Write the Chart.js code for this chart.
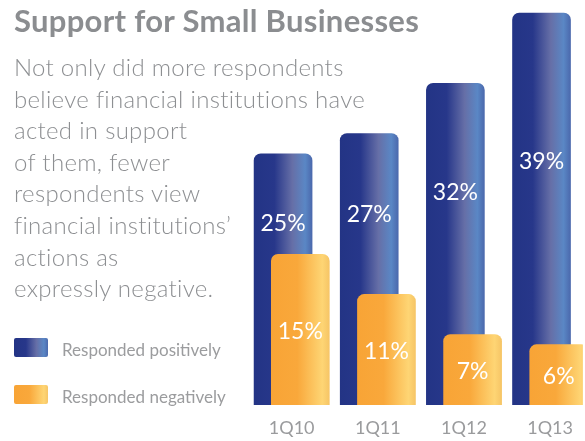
<!DOCTYPE html>
<html>
<head>
<meta charset="utf-8">
<title>Support for Small Businesses</title>
<script src="https://cdn.jsdelivr.net/npm/chart.js@4.4.1/dist/chart.umd.min.js"></script>
<style>
    html, body { margin: 0; padding: 0; background: #fff; }
    #wrap { position: relative; width: 585px; height: 441px; overflow: hidden; font-family: Lato, sans-serif; }
    #chart { position: absolute; left: 0; top: 0; }
    h1 {
        position: absolute; left: 14px; top: 5px; margin: 0; white-space: nowrap;
        font-size: 31px; line-height: 31px; font-weight: 700; color: #8b8d90; letter-spacing: 0.3px;
    }
    p.intro {
        position: absolute; left: 14px; top: 51px; margin: 0; white-space: nowrap;
        font-size: 24px; line-height: 31.6px; font-weight: 300; color: #8d8f92; letter-spacing: 0.3px;
    }
    .legend-row { position: absolute; left: 14px; height: 19px; }
    .legend-row .swatch { position: absolute; left: 0; top: 0; width: 34px; height: 19px; border-radius: 2px; }
    .legend-row span {
        position: absolute; left: 48px; top: 2px; white-space: nowrap;
        font-size: 17px; line-height: 19px; color: #9b9c9e;
    }
</style>
</head>
<body>
<div id="wrap">
    <canvas id="chart" width="585" height="441"></canvas>
    <h1>Support for Small Businesses</h1>
    <p class="intro">Not only did more respondents<br>believe financial institutions have<br>acted in support<br>of them, fewer<br>respondents view<br>financial institutions’<br>actions as<br>expressly negative.</p>
    <div id="legend"></div>
</div>
<script>
    const quarters = ['1Q10', '1Q11', '1Q12', '1Q13'];
    const positive = [25, 27, 32, 39];
    const negative = [15, 11, 7, 6];
    const seriesNames = ['Responded positively', 'Responded negatively'];

    const BAR_WIDTH = 58;
    const blueStops = [[0, '#233485'], [0.35, '#27378a'], [0.66, '#666fa7'], [0.88, '#5a87c5'], [1, '#4b69ad']];
    const orangeStops = [[0, '#f8a436'], [0.45, '#f9a83b'], [0.88, '#fed574'], [1, '#f6c566']];

    // horizontal gradient across each bar, worked out from the x scale
    function barGradient(stops) {
        return function(context) {
            const chart = context.chart;
            if (context.type !== 'data' || !chart.chartArea) {
                return stops[0][1];
            }
            const cx = chart.scales.x.getPixelForValue(context.parsed.x);
            const g = chart.ctx.createLinearGradient(cx - BAR_WIDTH / 2, 0, cx + BAR_WIDTH / 2, 0);
            stops.forEach(function(s) { g.addColorStop(s[0], s[1]); });
            return g;
        };
    }

    function cssGradient(stops) {
        return 'linear-gradient(to right, ' + stops.map(s => s[1] + ' ' + (s[0] * 100) + '%').join(', ') + ')';
    }

    // white percentage labels inside the bars
    const barLabels = {
        id: 'barLabels',
        afterDatasetsDraw(chart) {
            const ctx = chart.ctx;
            const yScale = chart.scales.y;
            ctx.save();
            ctx.font = '23px Lato, sans-serif';
            ctx.fillStyle = '#ffffff';
            ctx.textAlign = 'center';
            ctx.textBaseline = 'middle';
            chart.data.datasets.forEach(function(ds, di) {
                const meta = chart.getDatasetMeta(di);
                meta.data.forEach(function(bar, i) {
                    const v = ds.data[i].y;
                    let ly;
                    if (ds.labelHigh) {
                        // tall bars: label sits in the upper part, clear of the front bar
                        ly = yScale.getPixelForValue(0.44 * v + 7.1);
                    } else {
                        ly = (bar.y + bar.base) / 2 + 2;
                    }
                    ctx.fillText(v + '%', bar.x, ly);
                });
            });
            ctx.restore();
        }
    };

    function drawChart() {
        const ctx = document.getElementById('chart');

        new Chart(ctx, {
            type: 'bar',
            data: {
                datasets: [{
                    label: seriesNames[0],
                    data: positive.map((v, i) => ({ x: i, y: v })),
                    backgroundColor: barGradient(blueStops),
                    order: 2,
                    labelHigh: true
                }, {
                    label: seriesNames[1],
                    data: negative.map((v, i) => ({ x: i + 0.2, y: v })),
                    backgroundColor: barGradient(orangeStops),
                    order: 1
                }]
            },
            options: {
                responsive: false,
                animation: false,
                devicePixelRatio: 1,
                layout: {
                    padding: { left: 240, right: 0, top: 3, bottom: 0 }
                },
                datasets: {
                    bar: {
                        grouped: false,
                        barThickness: BAR_WIDTH,
                        borderRadius: 7,
                        borderSkipped: 'start'
                    }
                },
                scales: {
                    x: {
                        type: 'linear',
                        offset: false,
                        min: -0.5,
                        max: 3.48,
                        grid: { display: false, drawTicks: false },
                        border: { display: false },
                        afterBuildTicks: function(axis) {
                            axis.ticks = quarters.map((q, i) => ({ value: i + 0.1 }));
                        },
                        afterFit: function(axis) {
                            axis.height = 36;
                        },
                        ticks: {
                            padding: 12,
                            color: '#9a9b9d',
                            font: { family: 'Lato', size: 18 },
                            maxRotation: 0,
                            autoSkip: false,
                            callback: function(value, index) {
                                return quarters[index];
                            }
                        }
                    },
                    y: {
                        display: false,
                        min: 0,
                        max: 40
                    }
                },
                plugins: {
                    legend: { display: false },
                    tooltip: { enabled: false }
                }
            },
            plugins: [barLabels]
        });

        // legend beside the text, built from the same series
        const legend = document.getElementById('legend');
        [blueStops, orangeStops].forEach(function(stops, i) {
            const row = document.createElement('div');
            row.className = 'legend-row';
            row.style.top = (338 + i * 47) + 'px';
            row.innerHTML = '<div class="swatch" style="background:' + cssGradient(stops) + '"></div><span>' + seriesNames[i] + '</span>';
            legend.appendChild(row);
        });
    }

    document.fonts.load('23px Lato').then(drawChart, drawChart);
</script>
</body>
</html>
